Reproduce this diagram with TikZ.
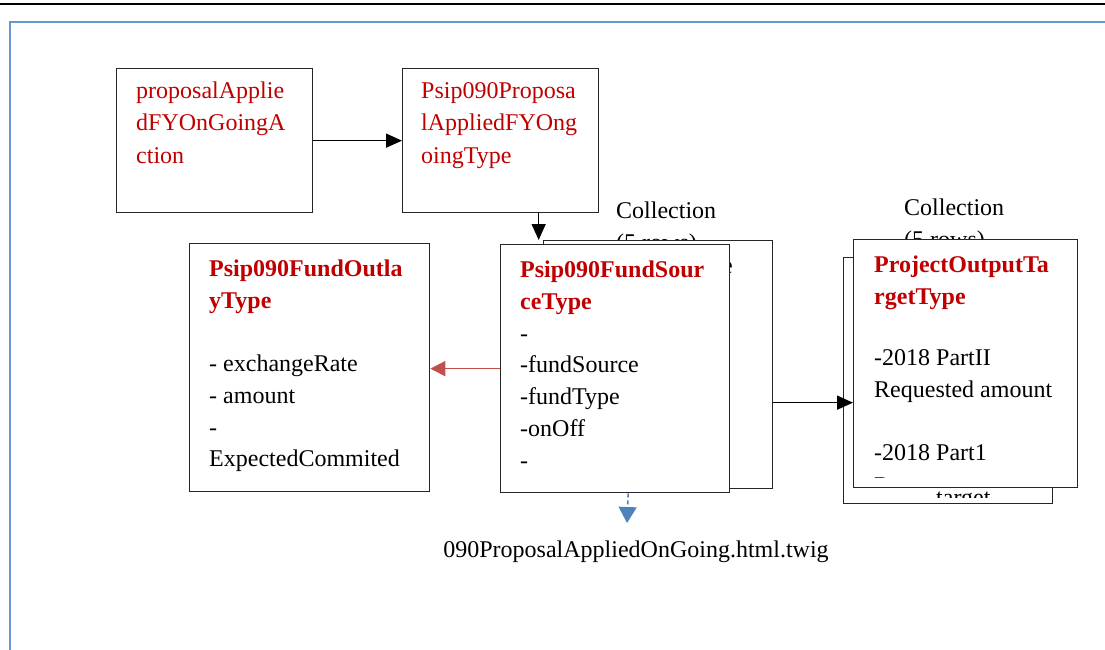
\documentclass[tikz,border=0pt]{standalone}
\usepackage{fontspec}
\setmainfont{Liberation Serif}
\usetikzlibrary{arrows.meta}
\definecolor{txtred}{HTML}{C00000}
\definecolor{arrred}{HTML}{C0504D}
\definecolor{arrblue}{HTML}{4F81BD}
\definecolor{frameblue}{HTML}{6A96D2}
\begin{document}
\begin{tikzpicture}[x=1pt,y=-1pt,
  box/.style={draw=black!85,line width=1.3pt,fill=white,anchor=north west,inner sep=0pt},
  txt/.style={anchor=base west,inner sep=0pt,font=\fontsize{24}{32}\selectfont},
  rtxt/.style={txt,text=txtred},
  ttl/.style={txt,text=txtred,font=\fontsize{24}{32}\selectfont\bfseries},
  blk/.style={-{Triangle[length=16pt,width=14pt]},line width=1.5pt,black},
  redarr/.style={-{Triangle[length=15pt,width=15pt]},line width=1.6pt,arrred},
  bluearr/.style={-{Triangle[length=16pt,width=18pt]},line width=1.6pt,arrblue,dash pattern=on 4pt off 3pt}
]
\useasboundingbox (0,0) rectangle (1105,650);
\draw[line width=2.5pt] (0,4) -- (1105,4);
\draw[frameblue,line width=2pt] (10,651) -- (10,22) -- (1106,22);

% collection labels (partly hidden)
\node[txt] (col1a) at (616,218) {Collection};
\node[txt] (col1b) at (616,250) {(5 rows)};
\node[txt] (col2a) at (904,215) {Collection};
\node[txt] (col2b) at (904,247) {(5 rows)};

% top boxes
\node[box,minimum width=196pt,minimum height=144pt] (A) at (116,68) {};
\node[rtxt] (a1) at (136,99) {proposalApplie};
\node[rtxt] (a2) at (136,131) {dFYOnGoingA};
\node[rtxt] (a3) at (136,163) {ction};

\node[box,minimum width=196pt,minimum height=144pt] (B) at (402,68) {};
\node[rtxt] (b1) at (421,99) {Psip090Proposa};
\node[rtxt] (b2) at (421,131) {lAppliedFYOng};
\node[rtxt] (b3) at (421,163) {oingType};

% fund source stack
\node[box,minimum width=229pt,minimum height=248pt] (Cb) at (543,240) {};
\node[txt] (cbe) at (722,273) {e};
\node[box,minimum width=229pt,minimum height=248pt] (C) at (500,244) {};
\node[ttl] (c1) at (520,277) {Psip090FundSour};
\node[ttl] (c2) at (520,309) {ceType};
\node[txt] (c3) at (520,341) {-};
\node[txt] (c4) at (520,372) {-fundSource};
\node[txt] (c5) at (520,404) {-fundType};
\node[txt] (c6) at (520,436) {-onOff};
\node[txt] (c7) at (520,468) {-};

% fund outlay
\node[box,minimum width=240pt,minimum height=248pt] (D) at (189,243) {};
\node[ttl] (d1) at (209,276) {Psip090FundOutla};
\node[ttl] (d2) at (209,308) {yType};
\node[txt] (d3) at (209,371) {- exchangeRate};
\node[txt] (d4) at (209,403) {- amount};
\node[txt] (d5) at (209,435) {-};
\node[txt] (d6) at (209,466) {ExpectedCommited};

% project output target stack
\node[box,minimum width=209pt,minimum height=246pt] (Eb) at (843,257) {};
\begin{scope}
\clip (844,258) rectangle (1051,497);
\node[txt] (ebf) at (936,505) {target};
\end{scope}
\node[box,minimum width=224pt,minimum height=248pt] (E) at (853,239) {};
\node[ttl] (e1) at (874,272) {ProjectOutputTa};
\node[ttl] (e2) at (874,304) {rgetType};
\node[txt] (e3) at (874,365) {-2018 PartII};
\node[txt] (e4) at (874,397) {Requested amount};
\node[txt] (e5) at (874,460) {-2018 Part1};
\begin{scope}
\clip (854,240) rectangle (1076,477);
\node[txt] (e6) at (874,493) {Re};
\end{scope}

% label
\node[anchor=base,inner sep=0pt,font=\fontsize{24}{32}\selectfont] (tw) at (636,557) {090ProposalAppliedOnGoing.html.twig};
\coordinate (twtop) at (627,523);

% connectors
\draw[blk] (A.east) -- (B.west);
\draw[blk] ([xshift=38pt]B.south) -- ([xshift=38pt]B.south |- Cb.north);
\draw[redarr] (C.west) -- (C.west -| D.east);
\draw[bluearr] ([xshift=13pt]C.south) -- (twtop);
\draw[blk] ([yshift=-38pt]Cb.east) -- ([yshift=-38pt]Cb.east -| E.west);
\end{tikzpicture}
\end{document}
